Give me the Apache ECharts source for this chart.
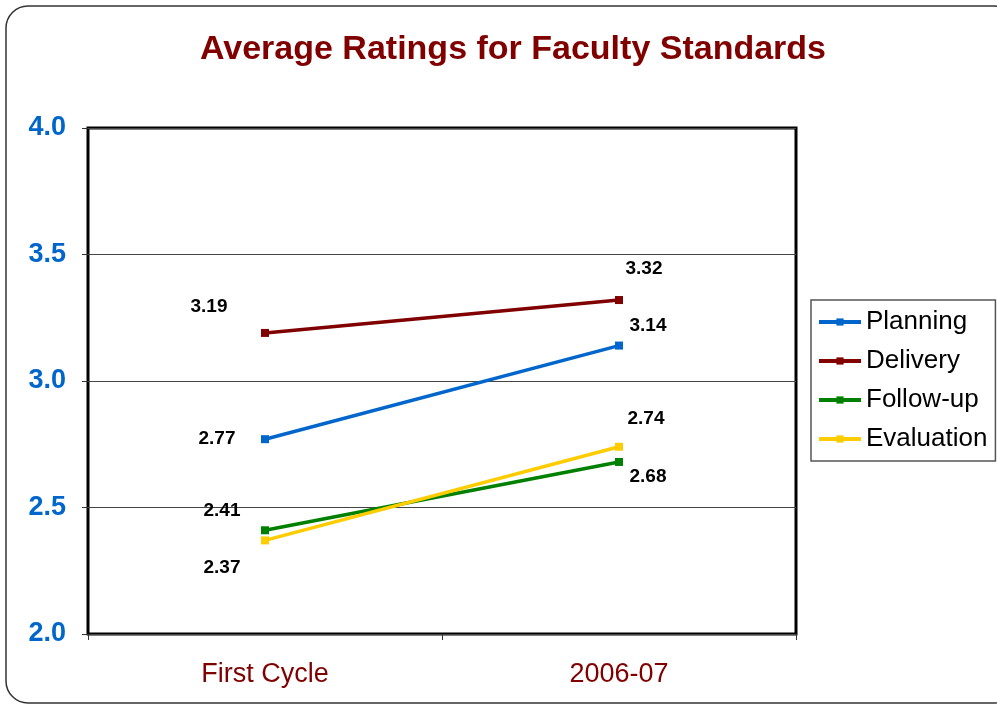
<!DOCTYPE html>
<html><head><meta charset="utf-8">
<script src="https://cdn.jsdelivr.net/npm/echarts@6/dist/echarts.min.js"></script>
<style>html,body{margin:0;padding:0;background:#fff}#c{width:997px;height:708px}</style>
</head><body><div id="c"></div>
<script>
const categories = ["First Cycle", "2006-07"];
const seriesNames = ["Planning", "Delivery", "Follow-up", "Evaluation"];
const planning = [2.77, 3.14];
const delivery = [3.19, 3.32];
const followUp = [2.41, 2.68];
const evaluation = [2.37, 2.74];
const yTicks = [2.0, 2.5, 3.0, 3.5, 4.0];

const colors = ["#0066CC", "#800000", "#008000", "#FFCC00"];
const labelOffsets = [
  [[-48, 0], [29, -20]],
  [[-56, -26], [25, -31]],
  [[-43, -20], [29, 15]],
  [[-43, 27], [27, -28]]
];
const allData = [planning, delivery, followUp, evaluation];
const FONT = 'Liberation Sans, Arial, sans-serif';

const chart = echarts.init(document.getElementById('c'));
chart.setOption({
  animation: false,
  backgroundColor: '#fff',
  title: {
    text: 'Average Ratings for Faculty Standards',
    left: 508, top: 28, textAlign: 'center',
    textStyle: { fontFamily: FONT, fontWeight: 'bold', fontSize: 34, color: '#800000' }
  },
  graphic: [{
    type: 'rect', shape: { x: 6, y: 6, width: 1010, height: 697, r: 22 },
    style: { fill: 'none', stroke: '#333', lineWidth: 1.5 }, z: -1
  }],
  legend: {
    orient: 'vertical', left: 811, top: 300,
    itemWidth: 42, itemHeight: 9, itemGap: 13,
    padding: [9, 8, 9, 6],
    borderColor: '#555', borderWidth: 1.5,
    lineStyle: { width: 4 },
    textStyle: { fontFamily: FONT, fontSize: 26, color: '#000', padding: [0, 0, 0, 0] },
    data: seriesNames
  },
  grid: { left: 88, top: 128, width: 708, height: 506, show: true, borderColor: '#000', borderWidth: 3, backgroundColor: 'transparent' },
  xAxis: {
    type: 'category', data: categories, boundaryGap: true,
    axisLine: { show: false },
    axisTick: { show: true, length: 6, lineStyle: { color: '#333' } },
    axisLabel: { fontFamily: FONT, fontSize: 27, color: '#800000', margin: 27 }
  },
  yAxis: {
    type: 'value', min: yTicks[0], max: yTicks[yTicks.length - 1], interval: 0.5,
    axisLine: { show: false },
    axisTick: { show: true, length: 6, lineStyle: { color: '#333' } },
    splitLine: { show: true, lineStyle: { color: '#444', width: 1 } },
    axisLabel: { fontFamily: FONT, fontSize: 27, fontWeight: 'bold', color: '#0066CC', margin: 22,
      formatter: v => v.toFixed(1) }
  },
  series: seriesNames.map((name, i) => ({
    name, type: 'line', color: colors[i],
    symbol: 'rect', symbolSize: 8,
    lineStyle: { width: 3.5, color: colors[i] },
    itemStyle: { color: colors[i] },
    data: allData[i].map((v, j) => ({
      value: v,
      label: {
        show: true, position: 'inside', offset: labelOffsets[i][j],
        formatter: p => p.value.toFixed(2),
        fontFamily: FONT, fontWeight: 'bold', fontSize: 19, color: '#000'
      }
    }))
  }))
});
</script></body></html>
